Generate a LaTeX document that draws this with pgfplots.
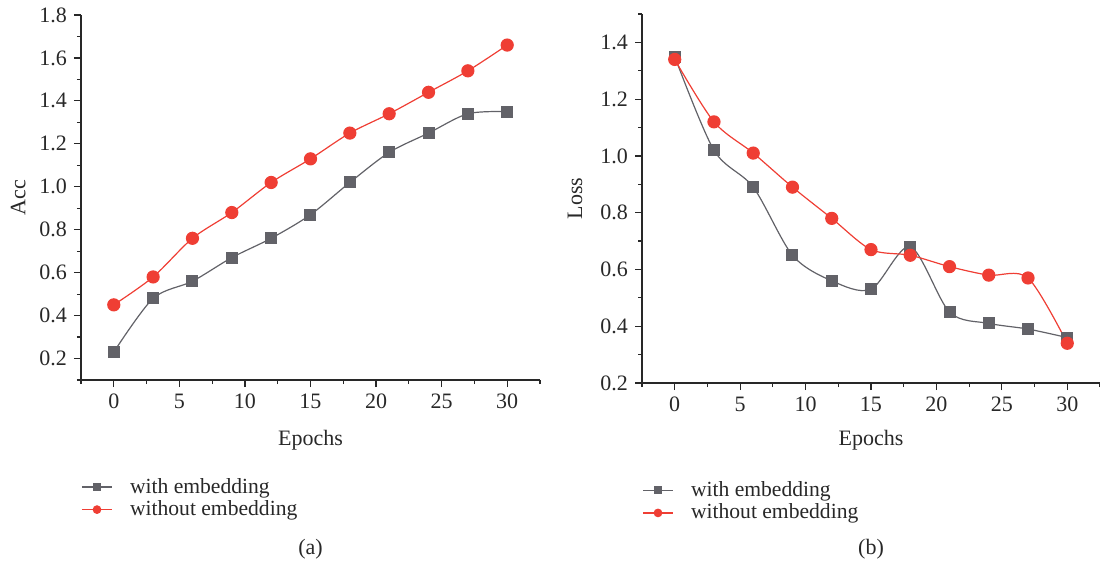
\documentclass[border=0pt]{standalone}
\usepackage{fontspec}
\setmainfont{Liberation Serif}
\usepackage{pgfplots}
\pgfplotsset{compat=1.18}

\definecolor{embgray}{RGB}{98,98,104}
\definecolor{noembred}{RGB}{239,62,52}
\definecolor{txt}{RGB}{40,40,40}

\pgfplotsset{
  panel/.style={
    scale only axis,
    axis x line*=bottom,
    axis y line*=left,
    axis line style={txt, line width=0.6pt},
    tick align=outside,
    tick style={txt, line width=0.6pt},
    major tick length=3.5pt,
    minor tick length=2pt,
    xmin=-2.5, xmax=32.5,
    xtick={0,5,...,30},
    minor xtick={-2.5,2.5,...,32.5},
    ticklabel style={font=\fontsize{11}{13}\selectfont, text=txt},
    /pgf/number format/assume math mode=true,
    /pgf/number format/fixed,
    /pgf/number format/fixed zerofill,
    /pgf/number format/precision=1,
    xticklabel style={/pgf/number format/precision=0, /pgf/number format/fixed zerofill=false},
    label style={font=\fontsize{11}{13}\selectfont, text=txt},
    xlabel={Epochs},
    legend cell align=left,
    legend style={draw=none, fill=none, inner sep=0pt, row sep=0.3pt,
      font=\fontsize{10.8}{12}\selectfont, text=txt,
      nodes={inner sep=1pt}},
    legend image code/.code={
      \draw[mark repeat=2, mark phase=2, mark options={scale=0.62}]
        plot coordinates {(0pt,0pt) (7.5pt,0pt) (15pt,0pt)};
      \path[draw=none, fill=none] (0pt,0pt) rectangle (23pt,0.1pt);
    },
    gray line/.style={embgray, line width=0.6pt, smooth, tension=0.5,
      mark=square*, mark size=2.7pt, mark options={fill=embgray, draw=embgray}},
    red line/.style={noembred, line width=0.6pt, smooth, tension=0.5,
      mark=*, mark size=3pt, mark options={fill=noembred, draw=noembred}},
  }
}

\begin{document}
\begin{tikzpicture}
\useasboundingbox (0,0) rectangle (550pt,-283.5pt);

% (a) accuracy
\begin{axis}[panel, name=acc,
  at={(40.5pt,-190pt)}, anchor=south west,
  width=229.5pt, height=182.5pt,
  ymin=0.1, ymax=1.8,
  ytick={0.2,0.4,...,1.8},
  minor ytick={0.1,0.3,...,1.7},
  ylabel={Acc},
  ylabel style={at={(axis description cs:-0.137,0.5)}, anchor=center},
  xlabel style={at={(axis description cs:0.5,-0.164)}, anchor=center},
  legend style={at={(axis description cs:0,-0.262)}, anchor=north west},
]
\addplot[gray line] coordinates {
  (0,0.23) (3,0.48) (6,0.56) (9,0.67) (12,0.76) (15,0.87)
  (18,1.02) (21,1.16) (24,1.25) (27,1.34) (30,1.35)};
\addlegendentry{with embedding}
\addplot[red line] coordinates {
  (0,0.45) (3,0.58) (6,0.76) (9,0.88) (12,1.02) (15,1.13)
  (18,1.25) (21,1.34) (24,1.44) (27,1.54) (30,1.66)};
\addlegendentry{without embedding}
\end{axis}

% (b) loss
\begin{axis}[panel, name=loss,
  at={(321pt,-191.5pt)}, anchor=south west,
  width=229pt, height=184.5pt,
  ymin=0.2, ymax=1.5,
  ytick={0.2,0.4,...,1.4},
  minor ytick={0.3,0.5,...,1.5},
  ylabel={Loss},
  ylabel style={at={(axis description cs:-0.146,0.5)}, anchor=center},
  xlabel style={at={(axis description cs:0.5,-0.154)}, anchor=center},
  legend style={at={(axis description cs:0,-0.26)}, anchor=north west},
]
\addplot[gray line] coordinates {
  (0,1.35) (3,1.02) (6,0.89) (9,0.65) (12,0.56) (15,0.53)
  (18,0.68) (21,0.45) (24,0.41) (27,0.39) (30,0.36)};
\addlegendentry{with embedding}
\addplot[red line] coordinates {
  (0,1.34) (3,1.12) (6,1.01) (9,0.89) (12,0.78) (15,0.67)
  (18,0.65) (21,0.61) (24,0.58) (27,0.57) (30,0.34)};
\addlegendentry{without embedding}
\end{axis}

\node[font=\fontsize{11}{13}\selectfont, text=txt] at ([yshift=-84.5pt]acc.south) {(a)};
\node[font=\fontsize{11}{13}\selectfont, text=txt] at ([yshift=-83pt]loss.south) {(b)};
\end{tikzpicture}
\end{document}
